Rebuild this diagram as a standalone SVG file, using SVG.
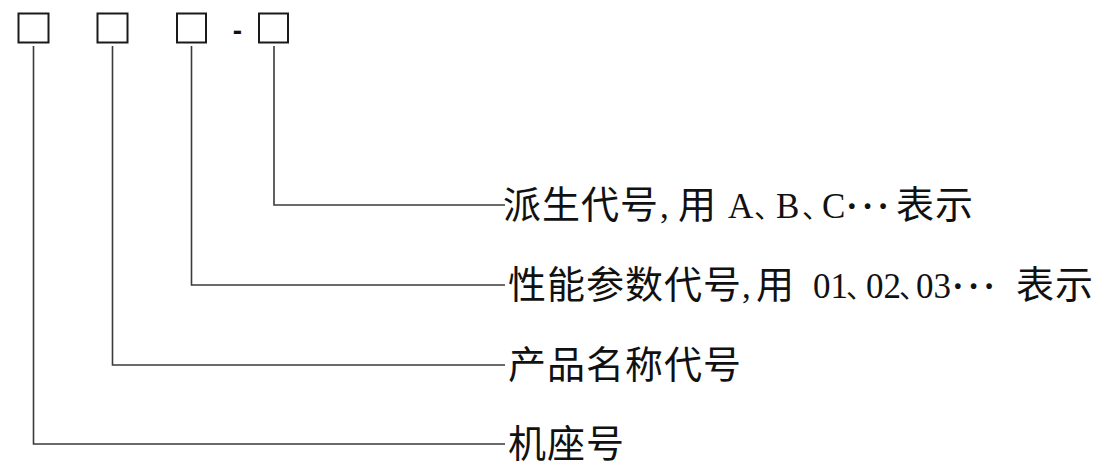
<svg xmlns="http://www.w3.org/2000/svg" width="1115" height="467" viewBox="0 0 1115 467">
<style>
.box{fill:none;stroke:#1a1a1a;stroke-width:2}
.ln{fill:none;stroke:#3a3a3a;stroke-width:1.6}
.t{font-family:"Noto Sans CJK SC","Noto Sans CJK JP",sans-serif;font-size:38px;fill:#111;letter-spacing:1px}
.l{font-family:"Liberation Serif","Times New Roman",serif;font-size:35px;letter-spacing:0}
.s{font-size:28px;letter-spacing:0}
.e{font-family:"Liberation Serif","Times New Roman",serif;font-size:35px;font-weight:bold;letter-spacing:4px}
.d{font-family:"Liberation Sans",Arial,sans-serif;font-size:28px;font-weight:bold;fill:#111}
</style>
<rect width="1115" height="467" fill="#fff"/>
<g id="box1"><rect class="box" x="18.5" y="13.5" width="30" height="29"/></g>
<g id="box2"><rect class="box" x="97.5" y="13.5" width="30" height="29"/></g>
<g id="box3"><rect class="box" x="177" y="13.5" width="29" height="29"/></g>
<g id="dash"><text class="d" x="237.5" y="40" text-anchor="middle">-</text></g>
<g id="box4"><rect class="box" x="259" y="13.5" width="29" height="29"/></g>
<g id="connectors">
<polyline class="ln" points="33.5,46 33.5,444 505,444"/>
<polyline class="ln" points="112.5,46 112.5,365 505,365"/>
<polyline class="ln" points="191.5,46 191.5,285 505,285"/>
<polyline class="ln" points="274,46 274,205 505,205"/>
</g>
<g id="label1">
<text class="t" y="218"><tspan x="503">派生代号</tspan><tspan class="l" x="660">,</tspan><tspan x="678">用</tspan><tspan class="l" x="728">A</tspan><tspan class="s" x="754">、</tspan><tspan class="l" x="776">B</tspan><tspan class="s" x="802">、</tspan><tspan class="l" x="822">C</tspan><tspan class="e" x="846">···</tspan><tspan x="896">表示</tspan></text>
</g>
<g id="label2">
<text class="t" y="298"><tspan x="508">性能参数代号</tspan><tspan class="l" x="742">,</tspan><tspan x="756">用</tspan><tspan class="l" x="813">01</tspan><tspan class="s" x="846">、</tspan><tspan class="l" x="866">02</tspan><tspan class="s" x="899">、</tspan><tspan class="l" x="916">03</tspan><tspan class="e" x="952">···</tspan><tspan x="1016">表示</tspan></text>
</g>
<g id="label3"><text class="t" x="508" y="378">产品名称代号</text></g>
<g id="label4"><text class="t" x="508" y="457">机座号</text></g>
</svg>
